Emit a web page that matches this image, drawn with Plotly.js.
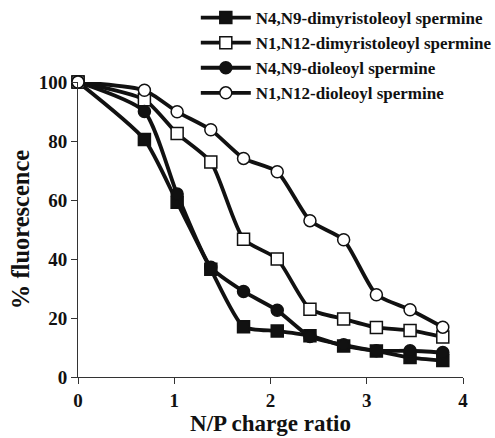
<!DOCTYPE html>
<html>
<head>
<meta charset="utf-8">
<script src="https://cdn.plot.ly/plotly-3.0.1.min.js"></script>
<style>html,body{margin:0;padding:0;background:#fff;}#chart{width:495px;height:438px;}</style>
</head>
<body>
<div id="chart"></div>
<script>
const npRatio = [0, 0.69, 1.03, 1.38, 1.72, 2.07, 2.41, 2.76, 3.10, 3.45, 3.79];
const n4n9Dimyristoleoyl = [100, 80.5, 59.2, 36.5, 17.0, 15.6, 14.0, 10.5, 8.8, 6.6, 5.6];
const n1n12Dimyristoleoyl = [100, 94.0, 82.5, 72.9, 46.7, 40.0, 23.0, 19.7, 16.8, 15.8, 13.6];
const n4n9Dioleoyl = [100, 90.0, 62.0, 37.2, 29.0, 22.6, 13.7, 10.9, 8.9, 8.9, 8.3];
const n1n12Dioleoyl = [100, 97.2, 89.9, 83.8, 74.1, 69.6, 53.0, 46.5, 27.9, 22.8, 16.9];
const seriesNames = ['N4,N9-dimyristoleoyl spermine', 'N1,N12-dimyristoleoyl spermine', 'N4,N9-dioleoyl spermine', 'N1,N12-dioleoyl spermine'];
const xTicks = [0, 1, 2, 3, 4];
const yTicks = [0, 20, 40, 60, 80, 100];

const seriesY = [n4n9Dimyristoleoyl, n1n12Dimyristoleoyl, n4n9Dioleoyl, n1n12Dioleoyl];
const symbols = ['square', 'square', 'circle', 'circle'];
const fills = ['#111', '#fff', '#111', '#fff'];

const traces = seriesY.map((y, i) => ({
  x: npRatio, y: y, name: seriesNames[i], type: 'scatter', mode: 'lines+markers',
  cliponaxis: false,
  line: {color: '#111', width: 3.8, shape: 'spline', smoothing: 0.6},
  marker: {symbol: symbols[i], size: 12, color: fills[i], line: {color: '#111', width: 1.5}}
}));

const font = {family: 'Liberation Serif, Times New Roman, serif', color: '#111', weight: 'bold'};

const layout = {
  width: 495, height: 438,
  margin: {l: 78, r: 32, t: 82, b: 61, autoexpand: false},
  paper_bgcolor: '#fff', plot_bgcolor: '#fff',
  font: Object.assign({size: 15}, font),
  showlegend: true,
  legend: {x: 0.306, y: 1.0, xref: 'paper', yref: 'container', xanchor: 'left', yanchor: 'top',
    bgcolor: 'rgba(0,0,0,0)',
    font: Object.assign({size: 17}, font), tracegroupgap: 0, itemwidth: 50},
  xaxis: {range: [0, 4], tickvals: xTicks, ticks: 'outside', ticklen: 6, tickcolor: '#333',
    showline: true, linecolor: '#333', linewidth: 1, showgrid: false, zeroline: false,
    tickfont: Object.assign({size: 19}, font),
    title: {text: 'N/P charge ratio', font: Object.assign({size: 23}, font), standoff: 5}},
  yaxis: {range: [0, 100], tickvals: yTicks, ticks: 'outside', ticklen: 6, tickcolor: '#333',
    showline: true, linecolor: '#333', linewidth: 1, showgrid: false, zeroline: false,
    tickfont: Object.assign({size: 19}, font),
    title: {text: '% fluorescence', font: Object.assign({size: 24.5}, font), standoff: 2}}
};

Plotly.newPlot('chart', traces, layout, {displayModeBar: false, staticPlot: true});
</script>
</body>
</html>
